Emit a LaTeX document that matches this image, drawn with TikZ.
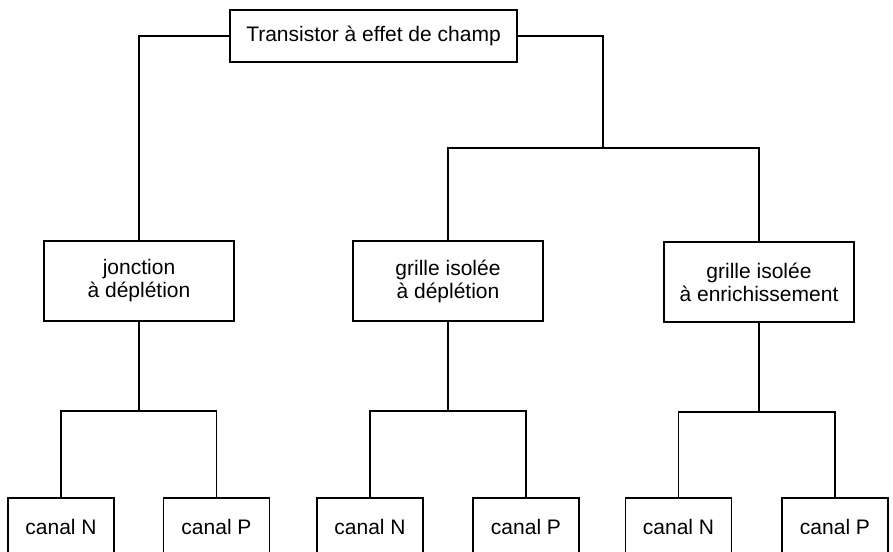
\documentclass[tikz,border=0pt]{standalone}
\usepackage{fontspec}
\setmainfont{Liberation Sans}
\usetikzlibrary{positioning,calc}

\begin{document}
\begin{tikzpicture}[x=1pt, y=-1pt,
    every node/.style={font=\fontsize{21}{23}\selectfont},
    box/.style={draw, line width=1.4pt, inner sep=0pt, align=center},
    midbox/.style={box, minimum width=190pt, minimum height=80pt},
    leafbox/.style={box, minimum width=106pt, minimum height=58pt},
    link/.style={line width=1.4pt}]
    \useasboundingbox (0,0) rectangle (893,551);
    \clip (0,0) rectangle (893,551);
    % Root
    \node[box, minimum width=287pt, minimum height=52pt] (root) at (373.5,36) {Transistor à effet de champ};
    % Second level
    \node[midbox] (jfet) at (139,281) {jonction\\à déplétion};
    \node[midbox] (mosdep) at (448,281) {grille isolée\\à déplétion};
    \node[midbox] (mosenr) at (759,282) {grille isolée\\à enrichissement};
    % Leaves (cut by the lower edge)
    \node[leafbox] (jn) at (61,527) {canal N};
    \node[leafbox] (jp) at (216.5,527) {canal P};
    \node[leafbox] (dn) at (370,527) {canal N};
    \node[leafbox] (dp) at (526,527) {canal P};
    \node[leafbox] (en) at (678.5,527) {canal N};
    \node[leafbox] (ep) at (835,527) {canal P};
    % Forks
    \coordinate (mosfork) at (603,148);
    \coordinate (jfork) at (139,411);
    \coordinate (dfork) at (448,411);
    \coordinate (efork) at (759,412);
    % Links from the root
    \draw[link] (root.west) -| (jfet.north);
    \draw[link] (root.east) -| (mosfork);
    \draw[link] (mosdep.north) |- (mosfork) -| (mosenr.north);
    % Links to the leaves
    \draw[link] (jfet.south) -- (jfork);
    \draw[link] (jn.north) |- (jfork) -| (jp.north);
    \draw[link] (mosdep.south) -- (dfork);
    \draw[link] (dn.north) |- (dfork) -| (dp.north);
    \draw[link] (mosenr.south) -- (efork);
    \draw[link] (en.north) |- (efork) -| (ep.north);
\end{tikzpicture}
\end{document}
